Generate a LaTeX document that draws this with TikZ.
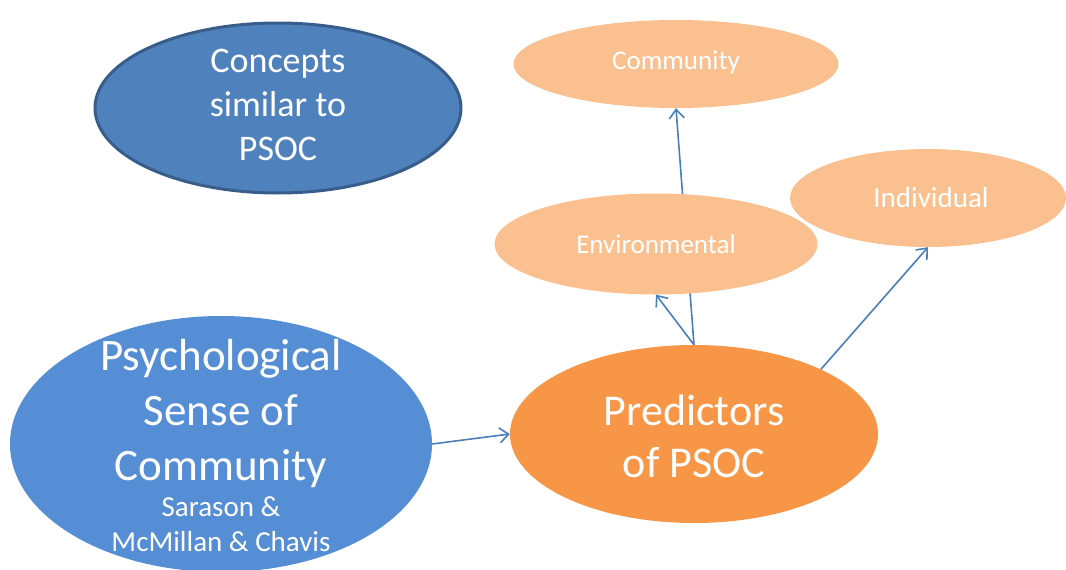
\documentclass[tikz,border=0pt]{standalone}
\usepackage{fontspec}
\setmainfont{Carlito}
\usetikzlibrary{shapes,arrows.meta}
\definecolor{darkblue}{HTML}{4F81BD}
\definecolor{darkrim}{HTML}{385D8A}
\definecolor{midblue}{HTML}{558ED5}
\definecolor{deeporange}{HTML}{F79646}
\definecolor{paleorange}{HTML}{FAC090}
\definecolor{linkblue}{HTML}{4A7EBB}
\newcommand{\smalltxt}{\fontsize{29}{35}\selectfont}
\begin{document}
\begin{tikzpicture}[
		x=1pt, y=-1pt,
		bubble/.style={ellipse,inner sep=0pt},
		caption/.style={text=white,align=center,inner sep=0pt},
		link/.style={draw=linkblue,line width=1.6pt,-{Straight Barb[length=9pt,width=15pt]}}]
		\useasboundingbox (0,0) rectangle (1066,570);
		\node[bubble,fill=darkblue,draw=darkrim,line width=3pt,minimum width=366,minimum height=170] (sim) at (278,108) {};
		\node[caption,font=\fontsize{36}{44}\selectfont] (simtxt) at (278,105) {Concepts\\similar to\\PSOC};
		\node[bubble,fill=midblue,minimum width=422,minimum height=256] (psoc) at (221,444) {};
		\node[caption,font=\fontsize{45}{55}\selectfont] (psoctxt) at (221,445) {Psychological\\Sense of\\Community\\[-19pt]\smalltxt Sarason \&\\[-20pt]\smalltxt McMillan \& Chavis};
		\node[bubble,fill=deeporange,minimum width=368,minimum height=178] (pred) at (694,434) {};
		\node[caption,font=\fontsize{44}{52}\selectfont] (predtxt) at (694,436) {Predictors\\of PSOC};
		\node[bubble,fill=paleorange,minimum width=325,minimum height=88] (comm) at (676,64) {};
		\node[caption,font=\fontsize{27}{32}\selectfont] (commtxt) at (676,62) {Community};
		\draw[link] (pred.north) -- (comm.south);
		\node[bubble,fill=paleorange,minimum width=323,minimum height=101] (env) at (656,244) {};
		\node[caption,font=\fontsize{27}{32}\selectfont] (envtxt) at (env) {Environmental};
		\node[bubble,fill=paleorange,minimum width=276,minimum height=98] (ind) at (928,198) {};
		\node[caption,font=\fontsize{29}{34}\selectfont] (indtxt) at (931,198) {Individual};
		\draw[link] (psoc.east) -- (pred.west);
		\draw[link] (pred.north) -- (env.south);
		\draw[link] (pred.27) -- (ind.south);
\end{tikzpicture}
\end{document}
